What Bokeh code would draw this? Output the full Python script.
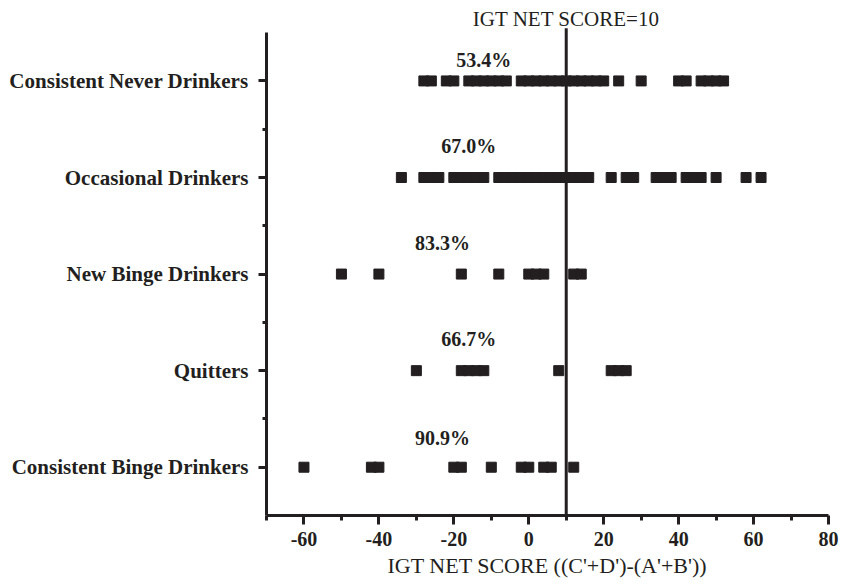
from bokeh.plotting import figure
from bokeh.models import FixedTicker, ColumnDataSource
from bokeh.core.properties import value
from bokeh.embed import file_html
from bokeh.resources import INLINE

# ---- data ----
categories = ["Consistent Binge Drinkers", "Quitters", "New Binge Drinkers",
              "Occasional Drinkers", "Consistent Never Drinkers"]
consistent_binge = [-60, -42, -40, -20, -18, -10, -2, 0, 4, 6, 12]
quitters = [-30, -18, -16, -14, -12, 8, 22, 24, 26]
new_binge = [-50, -40, -18, -8, 0, 2, 4, 12, 14]
occasional = [-34, -28, -26, -24, -20, -18, -16, -14, -12, -8, -6, -4, -2, 0, 2, 4, 6, 8,
              10, 12, 14, 16, 22, 26, 28, 34, 36, 38, 42, 44, 46, 50, 58, 62]
never = [-28, -26, -22, -20, -16, -14, -12, -10, -8, -6, -2, 0, 2, 4, 6, 8, 10, 12, 14,
         16, 18, 20, 24, 30, 40, 42, 46, 48, 50, 52]
percent_labels = ["90.9%", "66.7%", "83.3%", "67.0%", "53.4%"]
cutoff = 10
cutoff_label = "IGT NET SCORE=10"
x_ticks = [-60, -40, -20, 0, 20, 40, 60, 80]
x_minor = [-70, -50, -30, -10, 10, 30, 50, 70]

# ---- layout (label placement) ----
pct_label_x = [-23, -16, -23, -16, -12]
pct_label_dy = [0.30, 0.33, 0.32, 0.33, 0.22]
Y_AXIS_TOP = 4.5
Y_FRAME_TOP = 4.75
TITLE_Y = 4.645
LINE_TOP = 4.545

groups = [consistent_binge, quitters, new_binge, occasional, never]
xs, ys = [], []
for i, g in enumerate(groups):
    xs += g
    ys += [i] * len(g)

INK = "#231f20"
FONT = "Liberation Serif"

p = figure(frame_width=562, frame_height=507, x_range=(-70, 80), y_range=(-0.5, Y_FRAME_TOP),
           output_backend="svg", toolbar_location=None,
           min_border_left=266, min_border_right=13, min_border_top=8, min_border_bottom=69)
p.outline_line_color = None
p.xgrid.visible = False
p.ygrid.visible = False

# cut-off line
p.line([cutoff, cutoff], [-0.5, LINE_TOP], line_color=INK, line_width=3)

p.scatter(xs, ys, marker="square", size=10, color=INK)

src = ColumnDataSource(dict(x=pct_label_x,
                            y=[i + d for i, d in enumerate(pct_label_dy)],
                            t=percent_labels))
p.text(x="x", y="y", text="t", source=src, text_align="center", text_baseline="middle",
       text_font=value(FONT), text_font_style="bold", text_font_size="20px", text_color=INK)

p.text(x=[cutoff], y=[TITLE_Y], text=[cutoff_label], text_align="center",
       text_baseline="middle", text_font=value(FONT), text_font_size="21px", text_color=INK)

xa = p.xaxis[0]
xa.ticker = FixedTicker(ticks=x_ticks, minor_ticks=x_minor)
xa.major_label_overrides = {t: str(t) for t in x_ticks}
xa.axis_label = "IGT NET SCORE ((C'+D')-(A'+B'))"
xa.axis_label_text_font = FONT
xa.axis_label_text_font_style = "normal"
xa.axis_label_text_font_size = "22px"
xa.axis_label_text_color = INK
xa.axis_label_standoff = 4
xa.major_label_text_font = FONT
xa.major_label_text_font_style = "bold"
xa.major_label_text_font_size = "20px"
xa.major_label_text_color = INK
xa.major_label_standoff = 7

ya = p.yaxis[0]
ya.bounds = (-0.5, Y_AXIS_TOP)
ya.ticker = FixedTicker(ticks=[0, 1, 2, 3, 4], minor_ticks=[0.5, 1.5, 2.5, 3.5])
ya.major_label_overrides = {i: c for i, c in enumerate(categories)}
ya.major_label_text_font = FONT
ya.major_label_text_font_style = "bold"
ya.major_label_text_font_size = "21px"
ya.major_label_text_color = INK
ya.major_label_standoff = 10

for ax in (xa, ya):
    ax.axis_line_width = 3
    ax.axis_line_color = INK
    ax.major_tick_line_width = 3
    ax.minor_tick_line_width = 3
    ax.major_tick_line_color = INK
    ax.minor_tick_line_color = INK
    ax.major_tick_in = 0
    ax.minor_tick_in = 0
xa.major_tick_out = 9
xa.minor_tick_out = 5
ya.major_tick_out = 8
ya.minor_tick_out = 4

open("out.html", "w").write(file_html(p, INLINE))
